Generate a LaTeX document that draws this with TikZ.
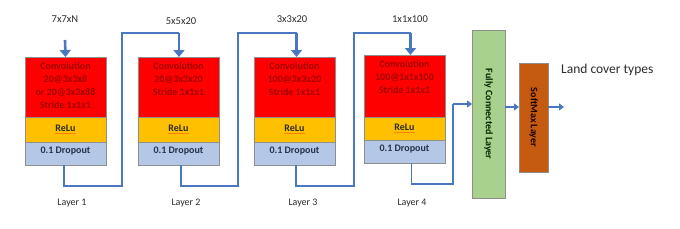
\documentclass[tikz,border=0pt]{standalone}
\usepackage{fontspec}
\setmainfont{Carlito}
\usetikzlibrary{arrows.meta}
\definecolor{convred}{HTML}{FF0000}
\definecolor{convtext}{HTML}{A00000}
\definecolor{reluyel}{HTML}{FFC000}
\definecolor{dropblue}{HTML}{B4C7E7}
\definecolor{fcgreen}{HTML}{A9D18E}
\definecolor{smorange}{HTML}{C55A11}
\definecolor{lineblue}{HTML}{4A78C0}
\definecolor{boxborder}{HTML}{8E8E8E}
\definecolor{darktext}{HTML}{2B2B2B}
\definecolor{droptext}{HTML}{26334A}
\tikzset{
  blk/.style={draw=boxborder, line width=0.8pt, anchor=north west, inner sep=0pt, outer sep=0pt},
  redblk/.style={blk, fill=convred, minimum width=81pt, minimum height=60pt},
  yelblk/.style={blk, fill=reluyel, minimum width=81pt, minimum height=25pt},
  blublk/.style={blk, fill=dropblue, minimum width=81pt, minimum height=23pt},
  convtxt/.style={anchor=north, align=center, text=convtext, font=\fontsize{10}{13}\selectfont\bfseries, inner sep=0pt},
  relutxt/.style={text=darktext, font=\fontsize{10}{12}\selectfont\bfseries, inner sep=0pt},
  droptxt/.style={text=droptext, font=\fontsize{10}{12}\selectfont\bfseries, inner sep=0pt},
  dimtxt/.style={text=darktext, font=\fontsize{10.5}{12}\selectfont, inner sep=0pt},
  laytxt/.style={text=darktext, font=\fontsize{10}{12}\selectfont, inner sep=0pt},
  conn/.style={draw=lineblue, line width=2pt},
  inarrow/.style={draw=lineblue, line width=2.6pt, -{Triangle[length=7pt,width=11pt]}},
  thinarrow/.style={draw=lineblue, line width=1.6pt, -{Triangle[length=5pt,width=7pt]}},
}
\newcommand{\relulabel}{{\color{orange}\underline{\color{darktext}ReLu}}}
\begin{document}
\begin{tikzpicture}[x=1pt,y=-1pt]
\useasboundingbox (0,0) rectangle (680,228);
% Layer blocks
\node[redblk] (r1) at (25,57) {};
\node[yelblk] (y1) at (25,117) {};
\node[blublk] (b1) at (25,142) {};
\node[redblk] (r2) at (138,57) {};
\node[yelblk] (y2) at (138,117) {};
\node[blublk] (b2) at (138,142) {};
\node[redblk] (r3) at (254,57) {};
\node[yelblk] (y3) at (254,117) {};
\node[blublk] (b3) at (254,142) {};
\node[redblk, minimum height=62pt] (r4) at (364,55) {};
\node[yelblk, minimum height=23pt] (y4) at (364,117) {};
\node[blublk] (b4) at (364,140) {};
% texts
\node[convtxt] (c1) at ([yshift=-5.5pt]r1.north) {Convolution\\20@3x3x8\\or 20@3x3x88\\Stride 1x1x1};
\node[convtxt] (c2) at ([yshift=-5.5pt]r2.north) {Convolution\\20@3x3x20\\Stride 1x1x1};
\node[convtxt] (c3) at ([yshift=-5.5pt]r3.north) {Convolution\\100@3x3x20\\Stride 1x1x1};
\node[convtxt] (c4) at ([yshift=-5.5pt]r4.north) {Convolution\\100@1x1x100\\Stride 1x1x1};
\foreach \i in {1,2,3,4}{
  \node[relutxt] (rl\i) at (y\i.center) {\relulabel};
  \node[droptxt] (dp\i) at ([yshift=2.5pt]b\i.center) {0.1 Dropout};
}
% dimension labels
\node[dimtxt] (d1) at (65,19) {7x7xN};
\node[dimtxt] (d2) at (181,21) {5x5x20};
\node[dimtxt] (d3) at (292,19) {3x3x20};
\node[dimtxt] (d4) at (410,19) {1x1x100};
% layer labels
\node[laytxt] (l1) at (72,203) {Layer 1};
\node[laytxt] (l2) at (186,203) {Layer 2};
\node[laytxt] (l3) at (303,203) {Layer 3};
\node[laytxt] (l4) at (412,203) {Layer 4};
% FC and softmax
\node[blk, fill=fcgreen, minimum width=33pt, minimum height=168pt] (fc) at (472,30) {};
\node[rotate=-90, text=black!85!green, font=\fontsize{10}{12}\selectfont\bfseries, inner sep=0pt] (fct) at (fc.center) {Fully Connected Layer};
\node[blk, fill=smorange, minimum width=29pt, minimum height=109pt] (sm) at (519,63) {};
\node[rotate=-90, text=black!90!red, font=\fontsize{10}{12}\selectfont\bfseries, inner sep=0pt] (smt) at (sm.center) {SoftMax Layer};
\node[text=darktext, font=\fontsize{13.5}{15}\selectfont, anchor=west, inner sep=0pt] (out) at (561,70) {Land cover types};
% helper coordinates
\coordinate (low) at (0,186);
\coordinate (low4) at (0,184);
\coordinate (top) at (0,33);
\coordinate (in1) at (65,40);
\coordinate (s1) at ([xshift=-1.5pt]b1.south);
\coordinate (s2) at ([xshift=2.5pt]b2.south);
\coordinate (s3) at ([xshift=1pt]b3.south);
\coordinate (s4) at ([xshift=7pt]b4.south);
\coordinate (e2) at ([xshift=0.5pt]r2.north);
\coordinate (e3) at ([xshift=2pt]r3.north);
\coordinate (e4) at ([xshift=6pt]r4.north);
\coordinate (j1) at (122,33);
\coordinate (j2) at (238,33);
\coordinate (j3) at (354,33);
\coordinate (j4) at (453,104);
\coordinate (m1) at (0,107);
\coordinate (o1) at (564,107);
% connectors
\draw[inarrow] (in1) -- (r1.north);
\draw[conn] (s1) -- (s1 |- low) -| (j1) -- (e2 |- top);
\draw[inarrow] (e2 |- top) -- (e2);
\draw[conn] (s2) -- (s2 |- low) -| (j2) -- (e3 |- top);
\draw[inarrow] (e3 |- top) -- (e3);
\draw[conn] (s3) -- (s3 |- low) -| (j3) -- (e4 |- top);
\draw[inarrow] (e4 |- top) -- (e4);
\draw[conn, line width=1.6pt] (s4) -- (s4 |- low4) -| (j4);
\draw[thinarrow] (j4) -- (fc.west |- j4);
\draw[thinarrow] (fc.east |- m1) -- (sm.west |- m1);
\draw[thinarrow] (sm.east |- m1) -- (o1);
\end{tikzpicture}
\end{document}
